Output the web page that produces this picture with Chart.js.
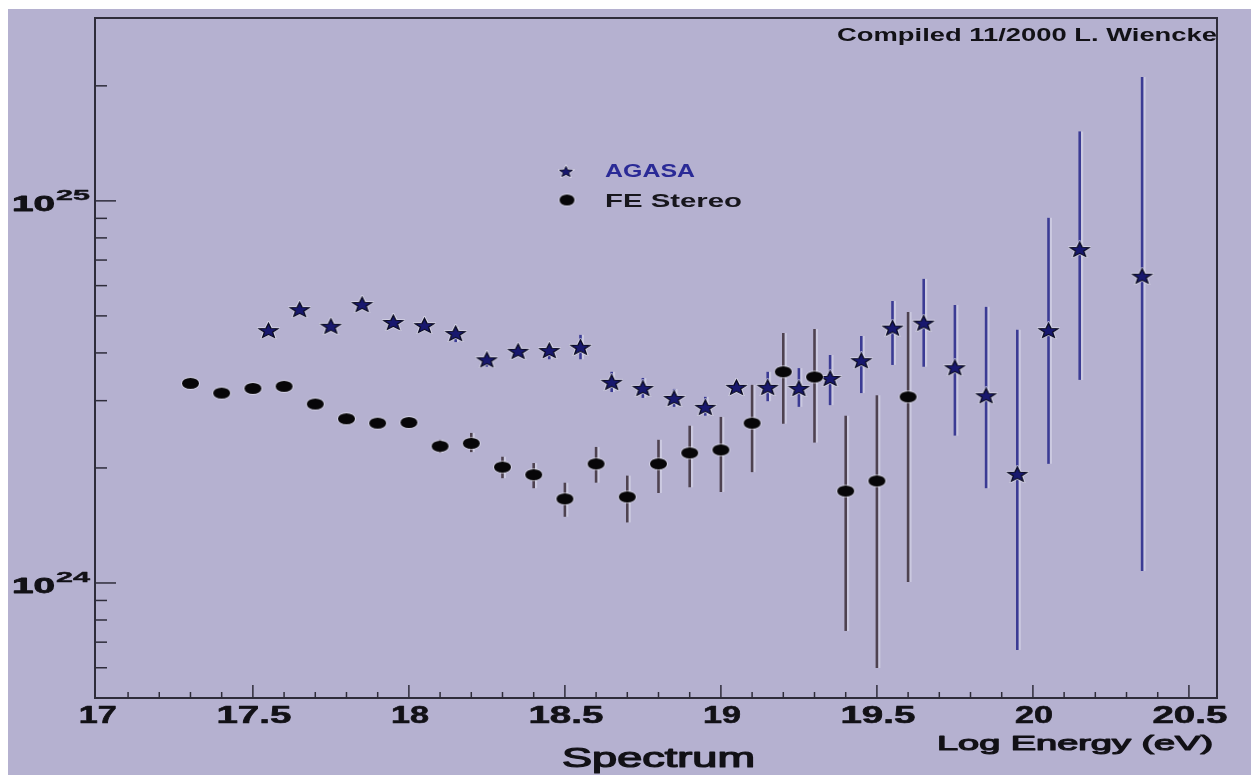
<!DOCTYPE html>
<html><head><meta charset="utf-8">
<script src="https://cdn.jsdelivr.net/npm/chart.js@4.4.1/dist/chart.umd.min.js"></script>
<style>html,body{margin:0;padding:0;background:#fff;}canvas{display:block;}</style>
</head><body>
<canvas id="c" width="1251" height="775"></canvas>
<script>
// ---------- data (flux in units of 1e24) ----------
const UNIT = 1e24;
const feEnergy   = [17.3,17.4,17.5,17.6,17.7,17.8,17.9,18.0,18.1,18.2,18.3,18.4,18.5,18.6,18.7,18.8,18.9,19.0,19.1,19.2,19.3,19.4,19.5,19.6];
const feFlux     = [3.33,3.14,3.23,3.27,2.94,2.69,2.62,2.63,2.28,2.32,2.01,1.92,1.66,2.05,1.68,2.05,2.19,2.23,2.62,3.57,3.46,1.74,1.85,3.07];
const feFluxLow  = [3.27,3.08,3.17,3.21,2.88,2.64,2.57,2.58,2.19,2.20,1.88,1.77,1.49,1.83,1.44,1.72,1.78,1.73,1.95,2.61,2.33,0.749,0.599,1.006];
const feFluxHigh = [3.39,3.20,3.29,3.33,3.00,2.74,2.67,2.68,2.37,2.47,2.14,2.06,1.83,2.27,1.91,2.37,2.58,2.72,3.30,4.51,4.62,2.74,3.10,5.12];

const agasaEnergy   = [17.55,17.65,17.75,17.85,17.95,18.05,18.15,18.25,18.35,18.45,18.55,18.65,18.75,18.85,18.95,19.05,19.15,19.25,19.35,19.45,19.55,19.65,19.75,19.85,19.95,20.05,20.15,20.35];
const agasaFlux     = [4.59,5.21,4.71,5.37,4.82,4.73,4.51,3.85,4.05,4.07,4.15,3.36,3.24,3.05,2.89,3.26,3.26,3.24,3.44,3.83,4.66,4.80,3.67,3.10,1.93,4.59,7.48,6.37];
const agasaFluxLow  = [4.45,5.06,4.57,5.22,4.68,4.59,4.27,3.68,3.92,3.85,3.85,3.16,3.05,2.89,2.74,3.16,2.99,2.89,2.92,3.14,3.72,3.68,2.43,1.77,0.668,2.05,3.40,1.075];
const agasaFluxHigh = [4.73,5.36,4.85,5.52,4.96,4.87,4.68,3.95,4.18,4.20,4.46,3.57,3.44,3.22,3.07,3.36,3.57,3.65,3.95,4.43,5.47,6.25,5.34,5.28,4.60,9.03,15.2,21.1];

const xTickValues = [17,17.5,18,18.5,19,19.5,20,20.5];
const xTickLabels = ['17','17.5','18','18.5','19','19.5','20','20.5'];
const yDecadeValues = [1e24, 1e25];
const yDecadeExps   = ['24','25'];

const seriesNames = ['AGASA','FE Stereo'];
const titleText = 'Spectrum';
const xAxisTitle = 'Log Energy (eV)';
const noteText = 'Compiled 11/2000 L. Wiencke';

// ---------- marker images ----------
function makeStar(w, h, fill) {
  const c = document.createElement('canvas'); c.width = w; c.height = h;
  const g = c.getContext('2d');
  g.translate(w/2, h/2 + 1);
  g.scale((w/2 - 2) / 9.5, (h/2 - 2) / 9.0);
  g.beginPath();
  for (let i = 0; i < 10; i++) {
    const r = i % 2 === 0 ? 10 : 4.3;
    const a = -Math.PI/2 + i * Math.PI/5;
    const px = r * Math.cos(a), py = r * Math.sin(a);
    i === 0 ? g.moveTo(px, py) : g.lineTo(px, py);
  }
  g.closePath();
  g.lineWidth = 3.2; g.strokeStyle = 'rgba(235,235,245,0.7)'; g.stroke();
  g.fillStyle = fill; g.fill();
  g.lineWidth = 1.4; g.strokeStyle = '#0a0a22'; g.stroke();
  return c;
}
function makeDot(w, h) {
  const c = document.createElement('canvas'); c.width = w; c.height = h;
  const g = c.getContext('2d');
  g.beginPath(); g.ellipse(w/2, h/2, w/2 - 1, h/2 - 1, 0, 0, Math.PI*2);
  g.fillStyle = 'rgba(235,235,245,0.6)'; g.fill();
  g.beginPath(); g.ellipse(w/2, h/2, w/2 - 2, h/2 - 2, 0, 0, Math.PI*2);
  g.fillStyle = '#070608'; g.fill();
  return c;
}
const starImg = makeStar(23, 18, '#18186e');
const dotImg = makeDot(21, 15);
const starLegend = makeStar(17, 14, '#18186e');
const dotLegend = makeDot(19, 15);

// ---------- helpers ----------
function fitText(ctx, text, x, y, w, font, color, align, thick) {
  ctx.save();
  ctx.font = font; ctx.fillStyle = color;
  ctx.textAlign = 'left'; ctx.textBaseline = 'alphabetic';
  const m = ctx.measureText(text).width;
  const sx = w / m;
  ctx.translate(align === 'center' ? x - w/2 : x, y);
  ctx.scale(sx, 1);
  ctx.fillText(text, 0, 0);
  if (thick) { ctx.lineWidth = thick; ctx.strokeStyle = color; ctx.lineJoin = 'round'; ctx.strokeText(text, 0, 0); }
  ctx.restore();
}

const BG = '#b5b1d0';
const AXIS = '#2e2c3a';
const TXT = '#121116';

const bgPlugin = {
  id: 'bg',
  beforeDraw(chart) {
    const ctx = chart.ctx;
    ctx.save();
    ctx.fillStyle = '#ffffff'; ctx.fillRect(0, 0, chart.width, chart.height);
    ctx.fillStyle = BG; ctx.fillRect(8, 9, chart.width - 8, chart.height - 9);
    ctx.restore();
  }
};

const errPlugin = {
  id: 'errbars',
  beforeDatasetsDraw(chart) {
    const ctx = chart.ctx, xs = chart.scales.x, ys = chart.scales.y, a = chart.chartArea;
    ctx.save();
    ctx.beginPath(); ctx.rect(a.left, a.top, a.right - a.left, a.bottom - a.top); ctx.clip();
    chart.data.datasets.forEach(ds => {
      ds.data.forEach((p, i) => {
        const px = xs.getPixelForValue(p.x);
        const y1 = ys.getPixelForValue(ds.errLow[i] * UNIT);
        const y2 = ys.getPixelForValue(ds.errHigh[i] * UNIT);
        ctx.lineWidth = 4; ctx.strokeStyle = 'rgba(225,225,240,0.5)';
        ctx.beginPath(); ctx.moveTo(px + 1.5, y1); ctx.lineTo(px + 1.5, y2); ctx.stroke();
        ctx.lineWidth = 2.6; ctx.strokeStyle = ds.barColor;
        ctx.beginPath(); ctx.moveTo(px, y1); ctx.lineTo(px, y2); ctx.stroke();
      });
    });
    ctx.restore();
  }
};

const framePlugin = {
  id: 'frame',
  afterDatasetsDraw(chart) {
    const ctx = chart.ctx, xs = chart.scales.x, ys = chart.scales.y, a = chart.chartArea;
    ctx.save();
    ctx.strokeStyle = AXIS; ctx.lineWidth = 2;
    ctx.strokeRect(a.left, a.top, a.right - a.left, a.bottom - a.top);
    ctx.lineWidth = 1.5;
    for (let k = 171; k <= 2059; k++) {
      const px = xs.getPixelForValue(k / 10);
      if (px <= a.left + 1 || px >= a.right - 1) continue;
      const major = k % 5 === 0;
      ctx.beginPath(); ctx.moveTo(px, a.bottom); ctx.lineTo(px, a.bottom - (major ? 13 : 6)); ctx.stroke();
    }
    for (let e = 23; e <= 25; e++) {
      for (let m = 1; m <= 9; m++) {
        const py = ys.getPixelForValue(m * Math.pow(10, e));
        if (py >= a.bottom - 1 || py <= a.top + 2) continue;
        ctx.beginPath(); ctx.moveTo(a.left, py); ctx.lineTo(a.left + (m === 1 ? 21 : 12), py); ctx.stroke();
      }
    }
    ctx.restore();

    xTickValues.forEach((v, i) => {
      const px = xs.getPixelForValue(v);
      const w = xTickLabels[i].length > 2 ? 75 : 38;
      fitText(ctx, xTickLabels[i], px + 1, 723, w, 'bold 24px "Liberation Sans", Arial, sans-serif', TXT, 'center', 0.6);
    });
    yDecadeValues.forEach((v, i) => {
      const py = ys.getPixelForValue(v);
      fitText(ctx, '10', 12, py + 10, 43, 'bold 22px "Liberation Sans", Arial, sans-serif', TXT, 'left', 0.8);
      fitText(ctx, yDecadeExps[i], 56, py - 1, 34, 'bold 15px "Liberation Sans", Arial, sans-serif', TXT, 'left', 0.4);
    });

    ctx.drawImage(starLegend, 566 - starLegend.width/2, 171 - starLegend.height/2);
    ctx.drawImage(dotLegend, 567 - dotLegend.width/2, 200 - dotLegend.height/2);
    fitText(ctx, seriesNames[0], 605, 177, 90, 'bold 19px "Liberation Sans", Arial, sans-serif', '#2a2a96', 'left');
    fitText(ctx, seriesNames[1], 605, 207, 137, 'bold 19px "Liberation Sans", Arial, sans-serif', '#17161c', 'left');

    fitText(ctx, noteText, 837, 41, 380, 'bold 18px "Liberation Sans", Arial, sans-serif', TXT, 'left');
    fitText(ctx, xAxisTitle, 937, 750, 276, '20px "Liberation Sans", Arial, sans-serif', TXT, 'left', 1.1);
    fitText(ctx, titleText, 562, 767, 193, '27px "Liberation Sans", Arial, sans-serif', TXT, 'left', 1.2);
  }
};

const feData = feEnergy.map((x, i) => ({ x: x, y: feFlux[i] * UNIT }));
const agasaData = agasaEnergy.map((x, i) => ({ x: x, y: agasaFlux[i] * UNIT }));

new Chart(document.getElementById('c'), {
  type: 'scatter',
  data: {
    datasets: [
      { label: seriesNames[1], data: feData, errLow: feFluxLow, errHigh: feFluxHigh, barColor: '#4e4250',
        pointStyle: dotImg, pointRadius: 9, showLine: false },
      { label: seriesNames[0], data: agasaData, errLow: agasaFluxLow, errHigh: agasaFluxHigh, barColor: '#3b3b94',
        pointStyle: starImg, pointRadius: 10, showLine: false }
    ]
  },
  options: {
    responsive: false,
    animation: false,
    devicePixelRatio: 1,
    layout: { padding: { left: 95, top: 18, right: 34, bottom: 77 } },
    plugins: { legend: { display: false }, tooltip: { enabled: false } },
    scales: {
      x: { type: 'linear', min: 16.994, max: 20.59, display: false },
      y: { type: 'logarithmic', min: 5e23, max: 3.01e25, display: false }
    }
  },
  plugins: [bgPlugin, errPlugin, framePlugin]
});
</script>
</body></html>
